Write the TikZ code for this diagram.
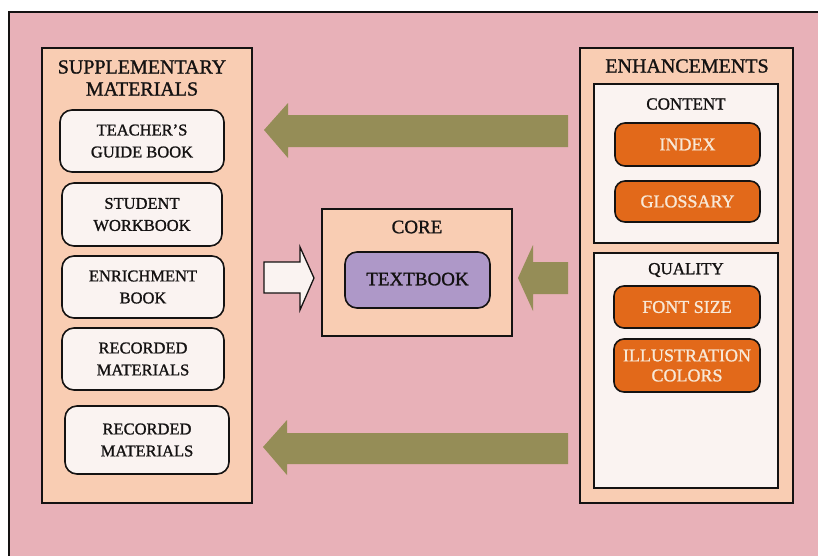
\documentclass[tikz,border=0pt]{standalone}
\usepackage{fontspec}
\setmainfont{Liberation Serif}[FakeBold=1.2]
\definecolor{bgpink}{HTML}{E8B1B8}
\definecolor{peach}{HTML}{F9CDB3}
\definecolor{boxwhite}{HTML}{FAF3F1}
\definecolor{orng}{HTML}{E2691A}
\definecolor{purp}{HTML}{AE98C8}
\definecolor{olive}{HTML}{958D57}
\definecolor{ink}{HTML}{141212}
\definecolor{cream}{HTML}{F8E8D6}
\begin{document}
\begin{tikzpicture}[x=1pt,y=-1pt,
  panel/.style={draw=ink,line width=1.6pt,fill=peach},
  inner/.style={draw=ink,line width=1.6pt,fill=boxwhite},
  item/.style={draw=ink,line width=1.6pt,fill=boxwhite,rounded corners=12pt,align=center,text=ink,font=\fontsize{16.5}{22}\selectfont,inner sep=0pt},
  oitem/.style={draw=ink,line width=1.6pt,fill=orng,rounded corners=10pt,align=center,text=cream,font=\fontsize{18}{20}\selectfont,inner sep=0pt},
  title/.style={text=ink,align=center,font=\fontsize{20}{22}\selectfont,inner sep=0pt},
  subtitle/.style={text=ink,align=center,font=\fontsize{17}{18}\selectfont,inner sep=0pt},
  bigarrow/.style={fill=olive,draw=none}]
\useasboundingbox (0,0) rectangle (818,555);
\fill[white] (0,0) rectangle (818,555);
\draw[fill=bgpink,draw=ink,line width=1.8pt] (9,12) rectangle (840,580);

% left panel
\draw[panel] (42,48) rectangle (252,503);
\node[title] (suptitle) at (142,78) {SUPPLEMENTARY\\MATERIALS};
\node[item,minimum width=164pt,minimum height=62pt] (teacher) at (142,141) {TEACHER'S\\GUIDE BOOK};
\node[item,minimum width=160pt,minimum height=63pt] (student) at (142,214.5) {STUDENT\\WORKBOOK};
\node[item,minimum width=162pt,minimum height=62pt] (enrich) at (143,287) {ENRICHMENT\\BOOK};
\node[item,minimum width=162pt,minimum height=62pt] (rec1) at (143,359) {RECORDED\\MATERIALS};
\node[item,minimum width=164pt,minimum height=68pt] (rec2) at (147,440) {RECORDED\\MATERIALS};

% core
\draw[panel] (322,209) rectangle (512,336);
\node[title,font=\fontsize{19}{22}\selectfont] (coretitle) at (417,227) {CORE};
\node[item,fill=purp,minimum width=145pt,minimum height=56pt,font=\fontsize{19}{22}\selectfont] (textbook) at (417.5,280) {\raisebox{2pt}{TEXTBOOK}};

% right panel
\draw[panel] (580,48) rectangle (793,503);
\node[title] (enhtitle) at (687,66) {ENHANCEMENTS};
\draw[inner] (594,84) rectangle (778,243);
\node[subtitle] (content) at (686,104) {CONTENT};
\node[oitem,minimum width=145pt,minimum height=43pt] (index) at (687.5,144.5) {INDEX};
\node[oitem,minimum width=145pt,minimum height=41pt] (gloss) at (687.5,201.5) {GLOSSARY};
\draw[inner] (594,253) rectangle (778,488);
\node[subtitle] (quality) at (686,270) {QUALITY};
\node[oitem,minimum width=146pt,minimum height=42pt] (font) at (687,307) {FONT SIZE};
\node[oitem,minimum width=146pt,minimum height=53pt] (illus) at (687,365.5) {ILLUSTRATION\\COLORS};

% arrows
\fill[bigarrow] (264,130) -- (288,103) -- (288,115) -- (568,115) -- (568,147) -- (288,147) -- (288,158) -- cycle;
\fill[bigarrow] (518,278) -- (533,245) -- (533,262) -- (568,262) -- (568,294) -- (533,294) -- (533,311) -- cycle;
\fill[bigarrow] (263,447) -- (287,420) -- (287,433) -- (568,433) -- (568,464) -- (287,464) -- (287,475) -- cycle;
\draw[fill=boxwhite,draw=ink,line width=1.3pt,line join=miter] (264,262) -- (300,262) -- (300,247) -- (314,278) -- (300,310) -- (300,293) -- (264,293) -- cycle;
\end{tikzpicture}
\end{document}
